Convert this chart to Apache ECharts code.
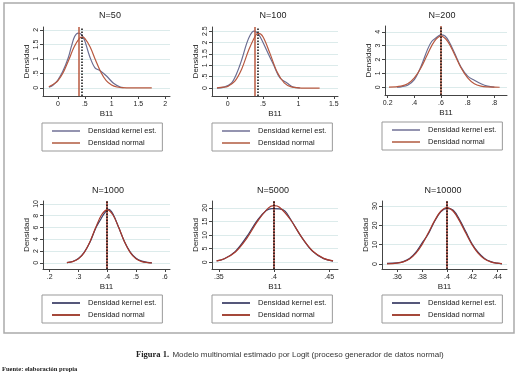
<!DOCTYPE html>
<html>
<head>
<meta charset="utf-8">
<script src="https://cdn.jsdelivr.net/npm/echarts@6/dist/echarts.min.js"></script>
<style>
  html, body { margin: 0; padding: 0; background: #fff; }
  #chart { width: 521px; height: 378px; }
</style>
</head>
<body>
<div id="chart"></div>
<script>
// panel titles
const panelTitles = ['N=50', 'N=100', 'N=200', 'N=1000', 'N=5000', 'N=10000']

// kernel density estimates [B11, densidad]
const kernel50 = [[-0.17, 0.02], [-0.09, 0.1], [0, 0.28], [0.09, 0.57], [0.19, 1.03], [0.25, 1.43], [0.31, 1.77], [0.375, 1.89], [0.44, 1.84], [0.5, 1.62], [0.59, 1.09], [0.69, 0.69], [0.78, 0.6], [0.91, 0.4], [1.03, 0.17], [1.16, 0.03], [1.22, 0.01]]
const kernel100 = [[-0.15, 0], [-0.05, 0.04], [0.05, 0.2], [0.13, 0.65], [0.2, 1.24], [0.27, 1.96], [0.32, 2.33], [0.37, 2.5], [0.41, 2.45], [0.46, 2.25], [0.55, 1.67], [0.65, 1.02], [0.74, 0.44], [0.84, 0.22], [0.93, 0.04], [1.02, 0.01]]
const kernel200 = [[0.27, 0], [0.3, 0.03], [0.35, 0.15], [0.4, 0.55], [0.45, 1.5], [0.5, 2.75], [0.53, 3.3], [0.56, 3.55], [0.6, 3.78], [0.63, 3.7], [0.66, 3.3], [0.7, 2.5], [0.75, 1.45], [0.8, 0.8], [0.85, 0.5], [0.9, 0.25], [0.95, 0.08], [1.0, 0.01]]
const kernel1000 = [[0.26, 0.05], [0.28, 0.25], [0.3, 0.75], [0.32, 1.8], [0.34, 3.5], [0.36, 5.9], [0.375, 7.2], [0.39, 8.4], [0.405, 9.1], [0.42, 8.3], [0.44, 6.0], [0.46, 3.6], [0.48, 1.85], [0.5, 0.8], [0.52, 0.3], [0.54, 0.08], [0.555, 0.02]]
const kernel5000 = [[0.348, 0.5], [0.355, 1.3], [0.365, 4.0], [0.375, 9.2], [0.385, 15.5], [0.393, 19.0], [0.398, 19.7], [0.405, 19.6], [0.41, 18.8], [0.415, 15.8], [0.425, 9.2], [0.435, 4.0], [0.445, 1.3], [0.4535, 0.4]]
const kernel10000 = [[0.352, 0.3], [0.36, 0.6], [0.365, 1.2], [0.37, 2.8], [0.375, 6.0], [0.38, 10.8], [0.385, 15.5], [0.39, 22.0], [0.395, 27.0], [0.4, 28.8], [0.405, 27.8], [0.41, 23.0], [0.415, 16.8], [0.42, 10.5], [0.425, 6.0], [0.43, 2.9], [0.435, 1.2], [0.44, 0.4], [0.444, 0.1]]

// densidad normal [B11, densidad]
const normal50 = [[-0.17, 0.04], [-0.05, 0.17], [0, 0.25], [0.1, 0.54], [0.2, 0.96], [0.3, 1.41], [0.4, 1.71], [0.45, 1.75], [0.5, 1.71], [0.6, 1.41], [0.7, 0.96], [0.8, 0.54], [0.9, 0.25], [1.0, 0.1], [1.1, 0.03], [1.2, 0.01], [1.35, 0], [1.75, 0]]
const normal100 = [[-0.15, 0.01], [-0.05, 0.04], [0, 0.07], [0.1, 0.29], [0.2, 0.84], [0.3, 1.68], [0.4, 2.33], [0.44, 2.4], [0.5, 2.25], [0.6, 1.51], [0.7, 0.7], [0.8, 0.23], [0.9, 0.05], [1.0, 0.01], [1.1, 0], [1.3, 0]]
const normal200 = [[0.21, 0.005], [0.3, 0.08], [0.35, 0.25], [0.4, 0.67], [0.45, 1.41], [0.5, 2.4], [0.55, 3.31], [0.6, 3.69], [0.65, 3.31], [0.7, 2.4], [0.75, 1.41], [0.8, 0.67], [0.85, 0.25], [0.9, 0.08], [0.95, 0.02], [1.0, 0.004], [1.04, 0]]
const normal1000 = [[0.26, 0.06], [0.28, 0.23], [0.3, 0.7], [0.32, 1.76], [0.34, 3.6], [0.36, 5.99], [0.38, 8.13], [0.4, 9.0], [0.42, 8.13], [0.44, 5.99], [0.46, 3.6], [0.48, 1.76], [0.5, 0.7], [0.52, 0.23], [0.54, 0.06], [0.555, 0.02]]
const normal5000 = [[0.348, 0.5], [0.355, 1.25], [0.365, 3.75], [0.375, 8.6], [0.385, 15.0], [0.395, 19.96], [0.4, 20.8], [0.405, 20.2], [0.415, 15.6], [0.425, 9.2], [0.435, 4.1], [0.445, 1.4], [0.4535, 0.46]]
const normal10000 = [[0.352, 0.06], [0.36, 0.4], [0.365, 1.1], [0.37, 2.6], [0.375, 5.5], [0.38, 10.0], [0.385, 16.0], [0.39, 22.3], [0.395, 27.3], [0.4, 29.2], [0.405, 27.3], [0.41, 22.3], [0.415, 16.0], [0.42, 10.0], [0.425, 5.5], [0.43, 2.6], [0.435, 1.1], [0.44, 0.4], [0.444, 0.15]]

// vertical reference lines
const redLines = [0.375, 0.39, 0.6, 0.4, 0.398, 0.4]
const dottedLines = [0.45, 0.435, 0.604, 0.402, 0.401, 0.4008]

// tick values and labels
const xTicks = [[0, 0.5, 1, 1.5, 2], [0, 0.5, 1, 1.5], [0.2, 0.4, 0.6, 0.8, 1.0], [0.2, 0.3, 0.4, 0.5, 0.6], [0.35, 0.4, 0.45], [0.36, 0.38, 0.4, 0.42, 0.44]]
const xLabels = [['0', '.5', '1', '1.5', '2'], ['0', '.5', '1', '1.5'], ['0.2', '.4', '.6', '.8', '.8'], ['.2', '.3', '.4', '.5', '.6'], ['.35', '.4', '.45'], ['.36', '.38', '.4', '.42', '.44']]
const yTicks = [[0, 0.5, 1, 1.5, 2], [0, 0.5, 1, 1.5, 2, 2.5], [0, 1, 2, 3, 4], [0, 2, 4, 6, 8, 10], [0, 5, 10, 15, 20], [0, 10, 20, 30]]
const yLabels = [['0', '.5', '1', '1.5', '2'], ['0', '.5', '1', '1.5', '2', '2.5'], ['0', '1', '2', '3', '4'], ['0', '2', '4', '6', '8', '10'], ['0', '5', '10', '15', '20'], ['0', '10', '20', '30']]

const legendNames = ['Densidad kernel est.', 'Densidad normal']

const kernels = [kernel50, kernel100, kernel200, kernel1000, kernel5000, kernel10000]
const normals = [normal50, normal100, normal200, normal1000, normal5000, normal10000]

// axis ranges (Stata adds margins)
const xMin = [-0.28, -0.22, 0.18, 0.177, 0.3438, 0.348]
const xMax = [2.09, 1.56, 1.095, 0.618, 0.458, 0.448]
const yMin = [-0.28, -0.35, -0.56, -1.03, -2.5, -2.6]
const yMax = [2.1, 2.68, 4.42, 10.5, 22.5, 32.6]

// layout
const grids = [
  { left: 43, top: 27, width: 127, height: 69 },
  { left: 212, top: 27, width: 126, height: 69 },
  { left: 385, top: 26, width: 122, height: 69 },
  { left: 43, top: 201, width: 127, height: 68 },
  { left: 212, top: 201, width: 126, height: 68 },
  { left: 382, top: 201, width: 125, height: 68 }
]
const titleX = [110, 273, 442, 108, 273, 443]
const legendPos = [[42, 123], [212, 123], [382, 122], [42, 295], [212, 295], [382, 295]]

const FONT = 'Liberation Sans'
const kernelColor = ['#6b6d92', '#6b6d92', '#6b6d92', '#3c3e68', '#3c3e68', '#3c3e68']
const normalColor = ['#b8583f', '#b8583f', '#b8583f', '#a8392c', '#a8392c', '#a8392c']
const legKernel = ['#9494b0', '#9494b0', '#9494b0', '#55577a', '#55577a', '#55577a']
const legNormal = ['#c4836f', '#c4836f', '#c4836f', '#a5483a', '#a5483a', '#a5483a']

const chart = echarts.init(document.getElementById('chart'), null, { renderer: 'canvas' })

const option = {
  animation: false,
  backgroundColor: '#fff',
  textStyle: { fontFamily: FONT },
  title: panelTitles.map((t, i) => ({
    text: t,
    left: titleX[i],
    top: i < 3 ? 11 : 186,
    textAlign: 'center',
    padding: 0,
    textStyle: { fontSize: 9, fontWeight: 'normal', color: '#222', fontFamily: FONT }
  })),
  grid: grids,
  xAxis: grids.map((g, i) => ({
    type: 'value',
    gridIndex: i,
    min: xMin[i],
    max: xMax[i],
    name: 'B11',
    nameLocation: 'middle',
    nameGap: 14,
    nameTextStyle: { fontSize: 8, color: '#222' },
    axisLine: { show: true, onZero: false, lineStyle: { color: '#444', width: 1 } },
    axisTick: { show: true, length: 3, customValues: xTicks[i], lineStyle: { color: '#444' } },
    axisLabel: {
      customValues: xTicks[i],
      fontSize: 7,
      margin: 5,
      color: '#222',
      formatter: v => xLabels[i][xTicks[i].findIndex(t => Math.abs(t - v) < 1e-9)]
    },
    splitLine: { show: false }
  })),
  yAxis: grids.map((g, i) => ({
    type: 'value',
    gridIndex: i,
    min: yMin[i],
    max: yMax[i],
    name: 'Densidad',
    nameLocation: 'middle',
    nameGap: 12,
    nameTextStyle: { fontSize: 8, color: '#222' },
    axisLine: { show: true, onZero: false, lineStyle: { color: '#444', width: 1 } },
    axisTick: { show: true, length: 3, customValues: yTicks[i], lineStyle: { color: '#444' } },
    axisLabel: {
      customValues: yTicks[i],
      rotate: 90,
      fontSize: 7,
      margin: 3,
      color: '#222',
      formatter: v => yLabels[i][yTicks[i].findIndex(t => Math.abs(t - v) < 1e-9)]
    },
    splitLine: { show: true, lineStyle: { color: '#dcebeb', width: 1 } }
  })),
  legend: legendPos.map((p, i) => ({
    left: p[0],
    top: p[1],
    orient: 'vertical',
    selectedMode: false,
    icon: 'rect',
    itemWidth: 28,
    itemHeight: 2,
    itemGap: 4,
    padding: [4, 6, 4, 10],
    borderColor: '#999',
    borderWidth: 1,
    textStyle: { fontSize: 7.5, color: '#222', padding: [0, 0, 0, 3] },
    data: [
      { name: legendNames[0], itemStyle: { color: legKernel[i] } },
      { name: legendNames[1], itemStyle: { color: legNormal[i] } }
    ]
  })),
  series: []
}

kernels.forEach((k, i) => {
  option.series.push({
    name: legendNames[0],
    type: 'line',
    xAxisIndex: i,
    yAxisIndex: i,
    data: k,
    showSymbol: false,
    smooth: 0.35,
    lineStyle: { color: kernelColor[i], width: 1.2 },
    itemStyle: { color: kernelColor[i] },
    z: 3
  })
  option.series.push({
    name: legendNames[1],
    type: 'line',
    xAxisIndex: i,
    yAxisIndex: i,
    data: normals[i],
    showSymbol: false,
    smooth: 0.35,
    lineStyle: { color: normalColor[i], width: 1.2 },
    itemStyle: { color: normalColor[i] },
    z: 4,
    markLine: {
      silent: true,
      symbol: 'none',
      label: { show: false },
      data: [
        { xAxis: redLines[i], lineStyle: { color: normalColor[i], type: 'solid', width: 1.5 } },
        { xAxis: dottedLines[i], lineStyle: { color: '#111', type: 'dotted', width: 1.5 } }
      ]
    }
  })
})

option.graphic = [
  {
    type: 'rect',
    shape: { x: 4, y: 3, width: 510, height: 330 },
    style: { fill: 'none', stroke: '#aaa', lineWidth: 1.5 },
    silent: true
  },
  {
    type: 'text',
    left: 136,
    top: 349,
    style: {
      text: '{a|Figura 1.} {b|Modelo multinomial estimado por Logit (proceso generador de datos normal)}',
      rich: {
        a: { fontFamily: 'Liberation Serif', fontSize: 8.5, fontWeight: 'bold', fill: '#222' },
        b: { fontFamily: FONT, fontSize: 8, fill: '#333' }
      }
    }
  },
  {
    type: 'text',
    left: 2,
    top: 366,
    style: {
      text: 'Fuente: elaboración propia',
      fontFamily: 'Liberation Serif',
      fontSize: 6.5,
      fontWeight: 'bold',
      fill: '#222'
    }
  }
]

chart.setOption(option)
</script>
</body>
</html>
